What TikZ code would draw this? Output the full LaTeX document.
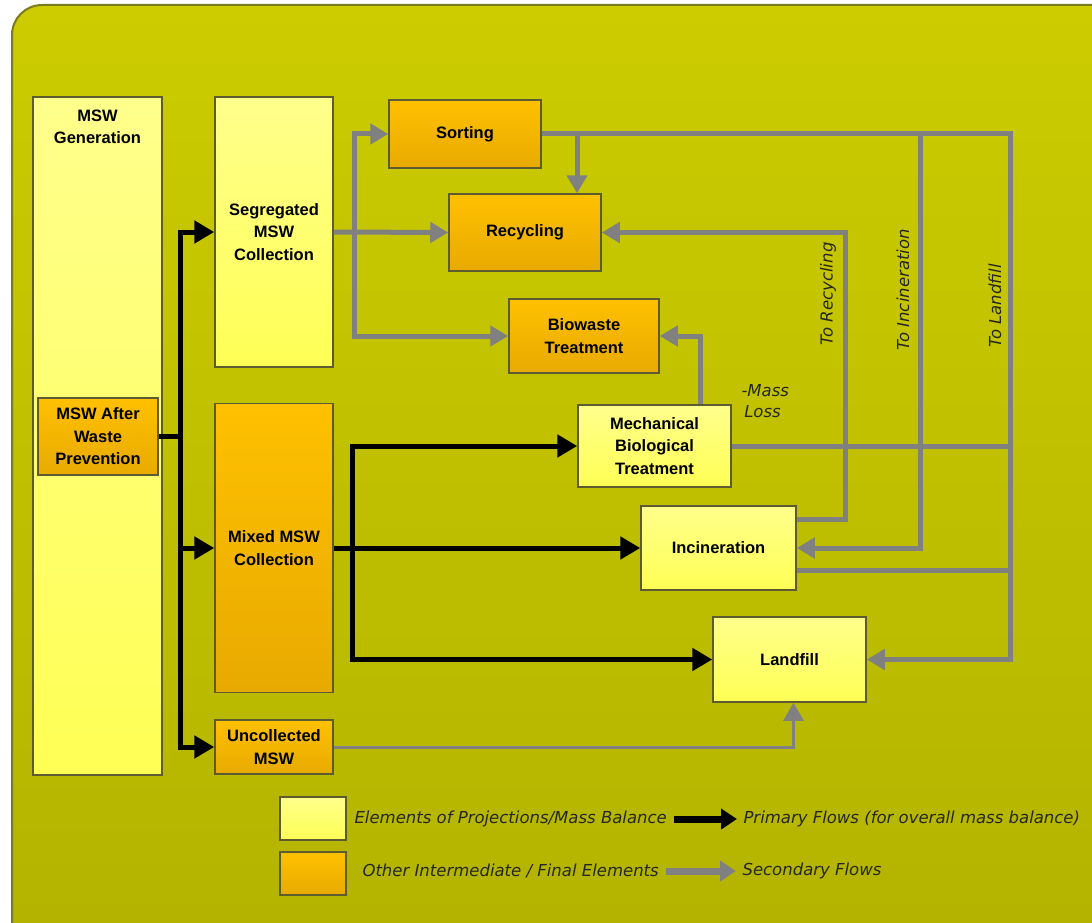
\documentclass[tikz,border=0pt]{standalone}
\usepackage{fontspec}
\setmainfont{Liberation Sans}
\newfontfamily\labelfont{DejaVu Sans}
\usepackage{tikz}
\usetikzlibrary{arrows.meta}
\usepackage{xcolor}

\definecolor{bgtop}{HTML}{CCCC00}
\definecolor{bgbottom}{HTML}{B3B300}
\definecolor{bgedge}{HTML}{7A7A20}
\definecolor{lighttop}{HTML}{FFFF8C}
\definecolor{lightbottom}{HTML}{FFFF55}
\definecolor{orangetop}{HTML}{FFC000}
\definecolor{orangebottom}{HTML}{E8AA00}
\definecolor{boxedge}{HTML}{5C5C30}
\definecolor{flowgray}{HTML}{808080}

\tikzset{
  boxtext/.style={font=\fontsize{16.5}{22.5}\selectfont\bfseries, align=center},
  box/.style={boxtext, draw=boxedge, line width=1.5pt, inner sep=2pt},
  lightbox/.style={box, top color=lighttop, bottom color=lightbottom},
  orangebox/.style={box, top color=orangetop, bottom color=orangebottom},
  primary/.style={draw=black, line width=5pt, -{Triangle[length=20pt,width=22pt]}},
  primaryline/.style={draw=black, line width=5pt},
  secondary/.style={draw=flowgray, line width=5pt, -{Triangle[length=18pt,width=20pt]}},
  secondaryline/.style={draw=flowgray, line width=5pt},
  tag/.style={font=\labelfont\itshape\fontsize{16.5}{21}\selectfont, text=black!85},
}

\begin{document}
\begin{tikzpicture}[x=1pt, y=-1pt]
    \useasboundingbox (0,0) rectangle (1092,923);
    % Backdrop
    \fill[white] (0,0) rectangle (1092,923);
    \draw[bgedge, line width=2pt, top color=bgtop, bottom color=bgbottom, rounded corners=30pt]
        (12,5) rectangle (1130,960);

    % Generation and collection
    \node[lightbox, minimum width=129pt, minimum height=678pt,
          label={[boxtext, anchor=north, yshift=-10pt]north:{MSW\\Generation}}] (gen) at (97.5,436) {};
    \node[orangebox, minimum width=120pt, minimum height=77pt] (after) at (98,436.5) {MSW After\\Waste\\Prevention};
    \node[lightbox, minimum width=118pt, minimum height=270pt] (seg) at (274,232) {Segregated\\MSW\\Collection};
    \node[orangebox, minimum width=118pt, minimum height=289pt] (mixed) at (274,548) {Mixed MSW\\Collection};
    \node[orangebox, minimum width=118pt, minimum height=54pt] (uncol) at (274,747) {Uncollected\\MSW};

    % Treatment
    \node[orangebox, minimum width=152pt, minimum height=68pt] (sort) at (465,134) {Sorting};
    \node[orangebox, minimum width=152pt, minimum height=77pt] (recy) at (525,232.5) {Recycling};
    \node[orangebox, minimum width=150pt, minimum height=74pt] (bio) at (584,336) {Biowaste\\Treatment};
    \node[lightbox, minimum width=153pt, minimum height=82pt] (mbt) at (654.5,446) {Mechanical\\Biological\\Treatment};
    \node[lightbox, minimum width=155pt, minimum height=84pt] (inc) at (718.5,548) {Incineration};
    \node[lightbox, minimum width=153pt, minimum height=85pt] (land) at (789.5,659.5) {Landfill};

    % Primary flows
    \coordinate (split) at (180,436.5);
    \coordinate (mixfork) at (352,548);
    \draw[primaryline] (after.east) -- (split);
    \draw[primary] (split) |- (seg.west);
    \draw[primary] (split) |- (mixed.west);
    \draw[primary] (split) |- (uncol.west);
    \draw[primary] (mixed.east) -- (inc.west);
    \draw[primary] (mixfork) |- (mbt.west);
    \draw[primary] (mixfork) |- (land.west);

    % Secondary flows
    \coordinate (segfork) at (354,232);
    \coordinate (recdrop) at (577,134);
    \coordinate (inccol) at (920,134);
    \coordinate (lfcol) at (1010,134);
    \coordinate (reccol) at (845,232.5);
    \coordinate (incup) at ([yshift=29pt]inc.east);
    \coordinate (incdown) at ([yshift=-22pt]inc.east);
    \draw[secondary] (seg.east) -- (recy.west);
    \draw[secondary] (segfork) |- (sort.west);
    \draw[secondary] (segfork) |- (bio.west);
    \draw[secondary] (sort.east) -- (lfcol) |- (land.east);
    \draw[secondary] (inccol) |- (inc.east);
    \draw[secondary] (recdrop) -- (recdrop |- recy.north);
    \draw[secondary] ([xshift=46pt]mbt.north) |- (bio.east);
    \draw[secondaryline] (mbt.east) -- (mbt.east -| lfcol);
    \draw[secondary] (incup) -| (reccol) -- (recy.east);
    \draw[secondaryline] (incdown) -- (incdown -| lfcol);
    \draw[secondary, line width=3pt] (uncol.east) -| ([xshift=4pt]land.south);

    % Flow labels
    \node[tag, rotate=90] (torec) at (828,294) {To Recycling};
    \node[tag, rotate=90] (toinc) at (903,290) {To Incineration};
    \node[tag, rotate=90] (toland) at (995,306) {To Landfill};
    \node[tag, align=left, anchor=north west] (loss) at (738,381) {-Mass\\\,Loss};

    % Legend
    \node[lightbox, minimum width=66pt, minimum height=43pt] (legA) at (313,818.5) {};
    \node[orangebox, minimum width=66pt, minimum height=43pt] (legB) at (313,873.5) {};
    \node[tag, anchor=west] (elemtxt) at (351,819) {Elements of Projections/Mass Balance};
    \node[tag, anchor=west] (othertxt) at (359,871) {Other Intermediate / Final Elements};
    \node[tag, anchor=west] (primtxt) at (740,819) {Primary Flows (for overall mass balance)};
    \node[tag, anchor=west] (sectxt) at (739,871) {Secondary Flows};
    \draw[primary, line width=7pt, -{Triangle[length=16pt,width=20pt]}, shorten <=4pt, shorten >=3pt]
        (elemtxt.east) -- (primtxt.west);
    \draw[secondary, line width=7pt, -{Triangle[length=16pt,width=20pt]}, shorten <=4pt, shorten >=3pt]
        (othertxt.east) -- (sectxt.west);
\end{tikzpicture}
\end{document}
